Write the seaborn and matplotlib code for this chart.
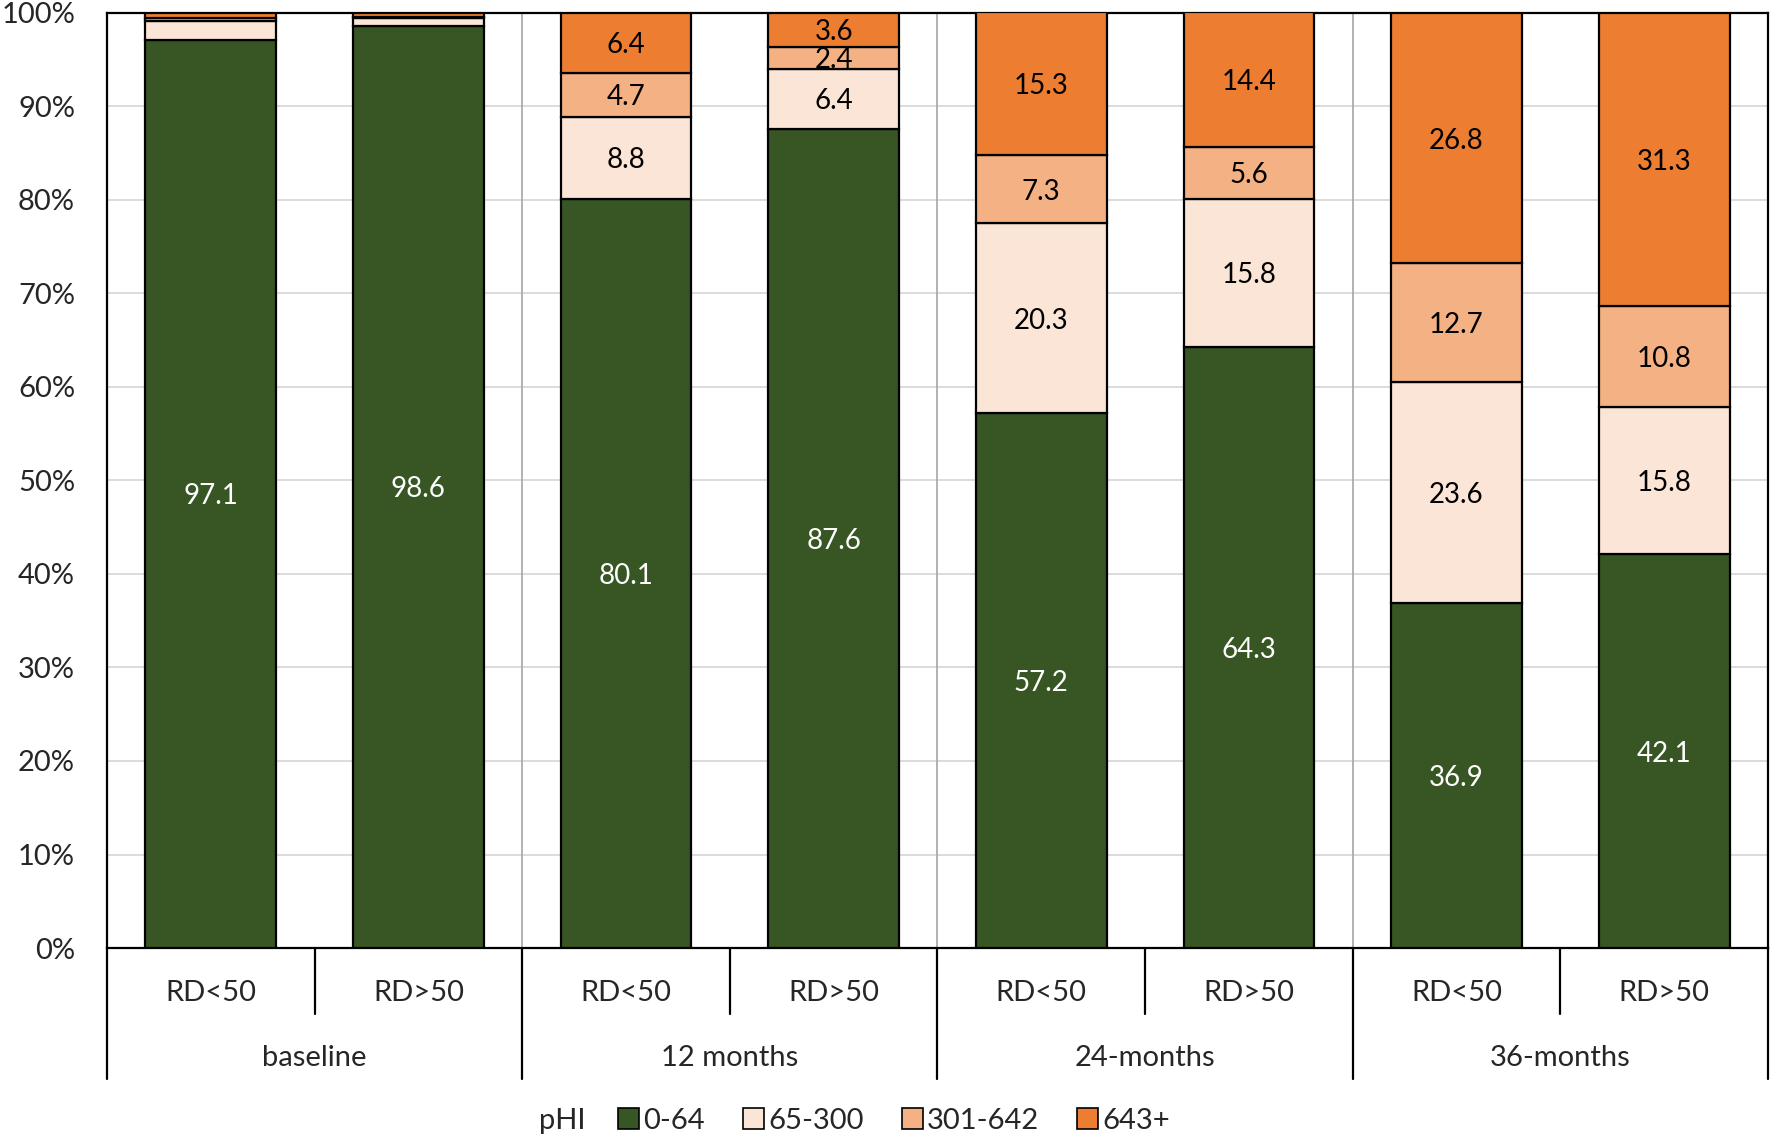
import numpy as np
import pandas as pd
import matplotlib
matplotlib.use("Agg")
import matplotlib.pyplot as plt
import seaborn as sns
from matplotlib.patches import Patch

# ---- data (percent of patients per pHI band) ----
groups = ["baseline", "12 months", "24-months", "36-months"]
subgroups = ["RD<50", "RD>50"]
bands = ["0-64", "65-300", "301-642", "643+"]

band_0_64 = [97.1, 98.6, 80.1, 87.6, 57.2, 64.3, 36.9, 42.1]
band_65_300 = [2.0, 0.8, 8.8, 6.4, 20.3, 15.8, 23.6, 15.8]
band_301_642 = [0.4, 0.2, 4.7, 2.4, 7.3, 5.6, 12.7, 10.8]
band_643 = [0.5, 0.4, 6.4, 3.6, 15.3, 14.4, 26.8, 31.3]

colors = ["#375623", "#FBE5D6", "#F4B183", "#ED7D31"]
text_colors = ["white", "black", "black", "black"]

sns.set_style("white")
plt.rcParams["font.family"] = ["Lato", "DejaVu Sans"]

keys = [f"{g} {s}" for g in groups for s in subgroups]
df = pd.DataFrame({"key": keys, "0-64": band_0_64, "65-300": band_65_300,
                   "301-642": band_301_642, "643+": band_643})

fig = plt.figure(figsize=(17.71, 11.37), dpi=100)
ax = fig.add_axes([0.0604, 0.1662, 0.9379, 0.8225])

bottom = np.zeros(len(df))
for band, col, tcol in zip(bands, colors, text_colors):
    sns.barplot(data=df, x="key", y=band, color=col, bottom=bottom, width=0.63,
                edgecolor="black", linewidth=1.6, saturation=1, ax=ax, zorder=3)
    for i, v in enumerate(df[band]):
        if v >= 2.4:
            ax.text(i, bottom[i] + v / 2, f"{v:.1f}", ha="center",
                    va="center_baseline", fontsize=20, color=tcol, zorder=4)
    bottom = bottom + df[band].values

ax.set_xlim(-0.5, len(df) - 0.5)
ax.set_ylim(0, 100)
ax.set_yticks(np.arange(0, 101, 10))
ax.set_yticklabels([f"{t}%" for t in range(0, 101, 10)], fontsize=21)
ax.tick_params(axis="y", length=0, pad=23)
ax.set_xticks([])
ax.set_xlabel("")
ax.set_ylabel("")
ax.yaxis.grid(True, color="#D9D9D9", linewidth=1.3, zorder=0)
ax.set_axisbelow(True)
for sp in ax.spines.values():
    sp.set_color("black")
    sp.set_linewidth(1.6)

# group separators inside the plot
for b in [1.5, 3.5, 5.5]:
    ax.axvline(b, color="#A6A6A6", linewidth=1.2, zorder=1)

# two-level category axis
trans = ax.get_xaxis_transform()
for b in np.arange(-0.5, len(df), 1.0):
    is_group = (b + 0.5) % 2 == 0
    y_end = -0.1401 if is_group else -0.0705
    ax.plot([b, b], [0, y_end], transform=trans, color="black", linewidth=1.6,
            clip_on=False)
for i, k in enumerate(keys):
    ax.text(i, -0.048, subgroups[i % 2], transform=trans, ha="center", va="center",
            fontsize=21)
for j, g in enumerate(groups):
    ax.text(2 * j + 0.5, -0.1175, g, transform=trans, ha="center", va="center",
            fontsize=21)

# legend
handles = [Patch(facecolor=c, edgecolor="black", linewidth=1.2) for c in colors]
fig.text(0.3045, 0.0145, "pHI", fontsize=21, ha="left", va="center")
fig.legend(handles, bands, loc="center left", bbox_to_anchor=(0.349, 0.0145),
           ncol=4, frameon=False, fontsize=21, handlelength=0.72, handleheight=0.72,
           handletextpad=0.15, columnspacing=1.3, borderpad=0, borderaxespad=0)

fig.savefig("out.png", dpi=100)
